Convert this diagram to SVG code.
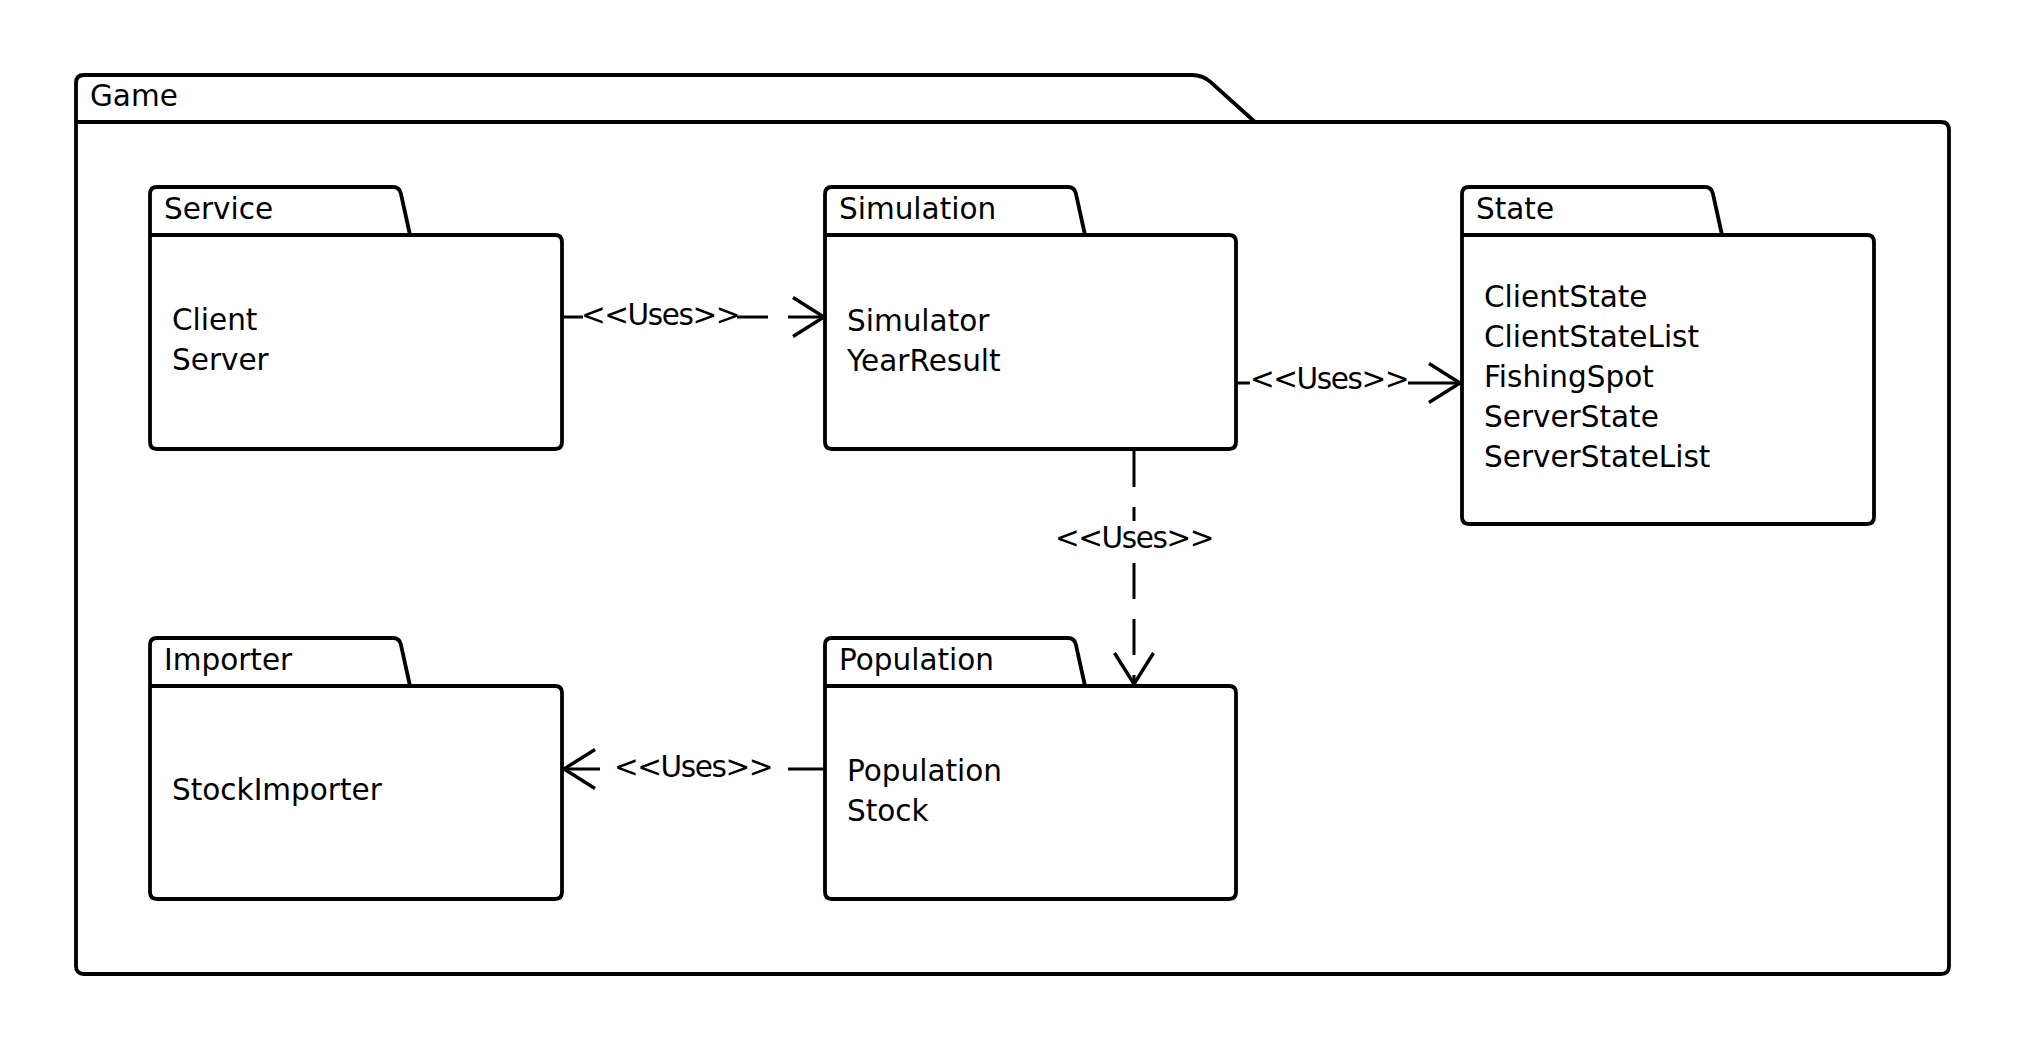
<svg xmlns="http://www.w3.org/2000/svg" width="2025" height="1050" viewBox="0 0 2025 1050">
  <style>
    .pkg { fill: #ffffff; stroke: #000000; stroke-width: 3.8; stroke-linejoin: round; }
    .sep { fill: none; stroke: #000000; stroke-width: 3.8; }
    .title { font-family: "DejaVu Sans", "Liberation Sans", sans-serif; font-size: 29.5px; fill: #000000; }
    .item { font-family: "DejaVu Sans", "Liberation Sans", sans-serif; font-size: 29.5px; fill: #000000; }
    .dep { fill: none; stroke: #000000; stroke-width: 3; }
    .lbl { font-family: "DejaVu Sans", "Liberation Sans", sans-serif; font-size: 29.5px; fill: #000000; letter-spacing: -1.4px; text-anchor: middle; }
    .lblbg { fill: #ffffff; stroke: none; }
    .head { fill: none; stroke: #000000; stroke-width: 3.4; stroke-dasharray: none; stroke-linejoin: miter; }
  </style>
  <defs>
    <marker id="open" markerUnits="userSpaceOnUse" viewBox="-36 -24 40 48" refX="0" refY="0" markerWidth="40" markerHeight="48" orient="auto" overflow="visible">
      <path class="head" d="M-31,-19.5 L0,0 L-31,19.5"/>
    </marker>
  </defs>
  <rect width="2025" height="1050" fill="#ffffff"/>

  <g id="game">
    <path class="pkg" d="M76,122 V83 Q76,75 84,75 H1192 Q1203,75 1211,82.4 L1255,122 H1941 Q1949,122 1949,130 V966 Q1949,974 1941,974 H84 Q76,974 76,966 Z"/>
    <path class="sep" d="M76,122 H1255"/>
    <text class="title" x="90" y="106">Game</text>
  </g>

  <g id="service">
    <path class="pkg" d="M150,235 V194 Q150,187 157,187 H393 Q399.4,187 400.8,193.2 L410,235 H555 Q562,235 562,242 V442 Q562,449 555,449 H157 Q150,449 150,442 Z"/>
    <path class="sep" d="M150,235 H410"/>
    <text class="title" x="164" y="219">Service</text>
    <text class="item" x="172" y="330">Client</text>
    <text class="item" x="172" y="370">Server</text>
  </g>

  <g id="simulation">
    <path class="pkg" d="M825,235 V194 Q825,187 832,187 H1068 Q1074.4,187 1075.8,193.2 L1085,235 H1229 Q1236,235 1236,242 V442 Q1236,449 1229,449 H832 Q825,449 825,442 Z"/>
    <path class="sep" d="M825,235 H1085"/>
    <text class="title" x="839" y="219">Simulation</text>
    <text class="item" x="847" y="331">Simulator</text>
    <text class="item" x="847" y="371">YearResult</text>
  </g>

  <g id="state">
    <path class="pkg" d="M1462,235 V194 Q1462,187 1469,187 H1705 Q1711.4,187 1712.8,193.2 L1722,235 H1867 Q1874,235 1874,242 V517 Q1874,524 1867,524 H1469 Q1462,524 1462,517 Z"/>
    <path class="sep" d="M1462,235 H1722"/>
    <text class="title" x="1476" y="219">State</text>
    <text class="item" x="1484" y="307">ClientState</text>
    <text class="item" x="1484" y="347">ClientStateList</text>
    <text class="item" x="1484" y="387">FishingSpot</text>
    <text class="item" x="1484" y="427">ServerState</text>
    <text class="item" x="1484" y="467">ServerStateList</text>
  </g>

  <g id="importer">
    <path class="pkg" d="M150,686 V645 Q150,638 157,638 H393 Q399.4,638 400.8,644.2 L410,686 H555 Q562,686 562,693 V892 Q562,899 555,899 H157 Q150,899 150,892 Z"/>
    <path class="sep" d="M150,686 H410"/>
    <text class="title" x="164" y="670">Importer</text>
    <text class="item" x="172" y="800">StockImporter</text>
  </g>

  <g id="population">
    <path class="pkg" d="M825,686 V645 Q825,638 832,638 H1068 Q1074.4,638 1075.8,644.2 L1085,686 H1229 Q1236,686 1236,693 V892 Q1236,899 1229,899 H832 Q825,899 825,892 Z"/>
    <path class="sep" d="M825,686 H1085"/>
    <text class="title" x="839" y="670">Population</text>
    <text class="item" x="847" y="781">Population</text>
    <text class="item" x="847" y="821">Stock</text>
  </g>

  <g id="connectors">
    <g id="service-simulation">
      <path class="dep" d="M564,317 H824" stroke-dasharray="36 20" marker-end="url(#open)"/>
      <rect class="lblbg" x="583" y="300" width="154" height="32"/>
      <text class="lbl" x="660" y="325">&lt;&lt;Uses&gt;&gt;</text>
    </g>
    <g id="simulation-state">
      <path class="dep" d="M1236,383 H1460" stroke-dasharray="14 158 52" marker-end="url(#open)"/>
      <rect class="lblbg" x="1250" y="364" width="157" height="32"/>
      <text class="lbl" x="1329" y="389">&lt;&lt;Uses&gt;&gt;</text>
    </g>
    <g id="simulation-population">
      <path class="dep" d="M1134,451 V684" stroke-dasharray="36 20" marker-end="url(#open)"/>
      <rect class="lblbg" x="1055" y="521" width="158" height="42"/>
      <text class="lbl" x="1134" y="548">&lt;&lt;Uses&gt;&gt;</text>
    </g>
    <g id="population-importer">
      <path class="dep" d="M824,769 H564" stroke-dasharray="36 20" marker-end="url(#open)"/>
      <rect class="lblbg" x="612" y="750" width="160" height="36"/>
      <text class="lbl" x="693" y="777">&lt;&lt;Uses&gt;&gt;</text>
    </g>
  </g>
</svg>
